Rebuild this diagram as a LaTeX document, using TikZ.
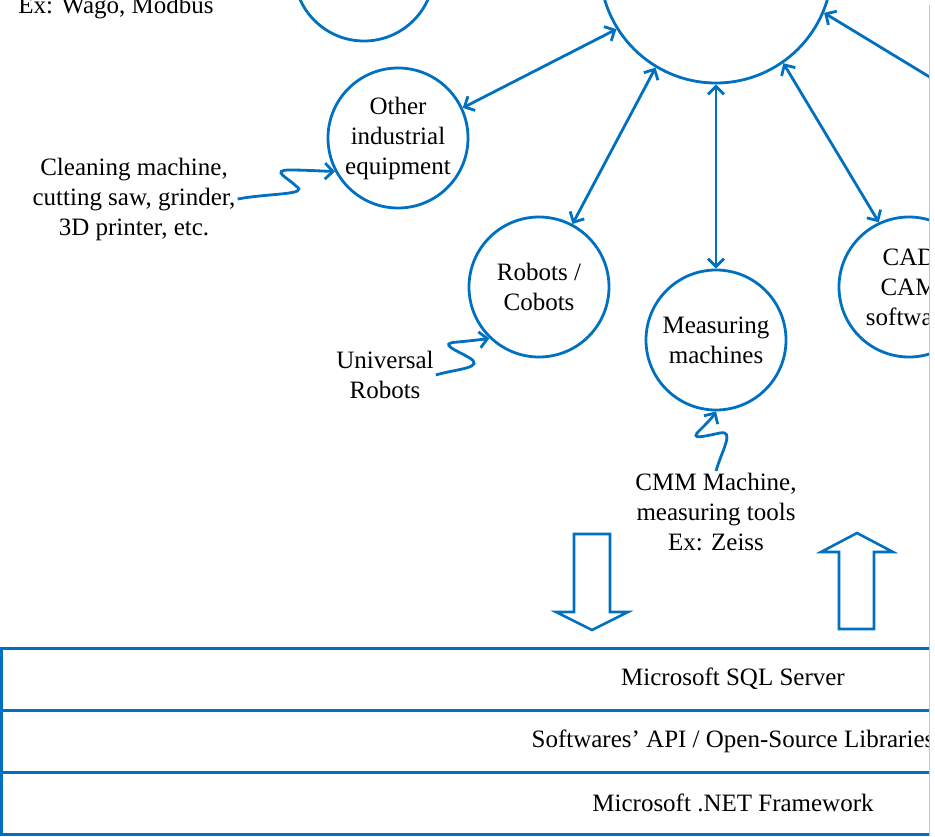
\documentclass[tikz,border=0pt]{standalone}
\usepackage{fontspec}
\setmainfont{Liberation Serif}
\usetikzlibrary{arrows.meta}
\definecolor{bl}{HTML}{0070C0}
\begin{document}
\begin{tikzpicture}[x=1pt,y=-1pt,
  txtfont/.style={font=\fontsize{25}{30}\selectfont},
  circ/.style={circle,draw=bl,line width=2.8pt,minimum size=140pt,inner sep=0pt,align=center,txtfont},
  lbl/.style={align=center,inner sep=2pt,txtfont},
  layer/.style={draw=bl,line width=3pt,minimum width=1463pt,minimum height=62pt,inner sep=0pt,txtfont},
  barb/.tip={Straight Barb[length=8pt,width=16pt]},
  conn/.style={draw=bl,line width=2.8pt,barb-barb},
  conn1/.style={draw=bl,line width=2.8pt,-barb},
  squig/.style={draw=bl,line width=2.8pt,-barb},
  barrow/.style={draw=bl,line width=2.6pt,fill=white}]
\useasboundingbox (0,0) rectangle (935,836);
\begin{scope}
\clip (0,0) rectangle (929,836);
% circles
\node[circ] (wago) at (364,-29) {};
\node[circ,minimum size=232pt] (big) at (716,-33) {};
\node[circ] (other) at (398,138) {Other\\industrial\\equipment};
\node[circ] (robots) at (539,287) {Robots /\\Cobots};
\node[circ] (meas) at (716,340) {Measuring\\machines};
\node[circ] (cad) at (909,287) {CAD\\CAM\\software};
% labels
\node[lbl,anchor=base] (wagoTxt) at (116,13) {Ex: Wago, Modbus};
\node[lbl] (cleanTxt) at (134,199) {Cleaning machine,\\cutting saw, grinder,\\3D printer, etc.};
\node[lbl] (urTxt) at (385,375) {Universal\\Robots};
\node[lbl] (cmmTxt) at (716,512) {CMM Machine,\\measuring tools\\Ex: Zeiss};
% connectors
\draw[conn] (other.25) -- (big.212.5);
\draw[conn] (robots.62) -- (big.239);
\draw[conn] (meas.north) -- (big.south);
\draw[conn] (cad.115) -- (big.-55);
\coordinate (offR) at (1035,141);
\draw[conn1] (offR) -- (big.-23.5);
% squiggles
\draw[squig] (cleanTxt.east) .. controls (270,193) and (310,195) .. (296,186)
  .. controls (288,178) and (270,170) .. (290,170)
  .. controls (305,170) and (320,171) .. (other.208);
\draw[squig] (urTxt.east) .. controls (455,369) and (488,368) .. (468,357)
  .. controls (458,351) and (436,343) .. (458,342)
  .. controls (468,341) and (478,340) .. (robots.226);
\draw[squig] (cmmTxt.north) .. controls (722,450) and (735,430) .. (720,433)
  .. controls (705,436) and (688,441) .. (700,430)
  .. controls (706,424) and (712,418) .. (meas.south);
% block arrows
\draw[barrow] (574,534) -- (610,534) -- (610,612) -- (628,612) -- (592,630) -- (556,612) -- (574,612) -- cycle;
\draw[barrow] (839,629) -- (874,629) -- (874,552) -- (893,552) -- (857,533) -- (821,552) -- (839,552) -- cycle;
% layers
\node[layer] (sql) at (733,679) {Microsoft SQL Server};
\node[layer] (api) at (733,741) {Softwares’ API / Open-Source Libraries};
\node[layer] (net) at (733,803) {Microsoft .NET Framework};
\end{scope}
\draw[gray!45,line width=1pt] (929.5,5) -- (929.5,836);
\end{tikzpicture}
\end{document}
